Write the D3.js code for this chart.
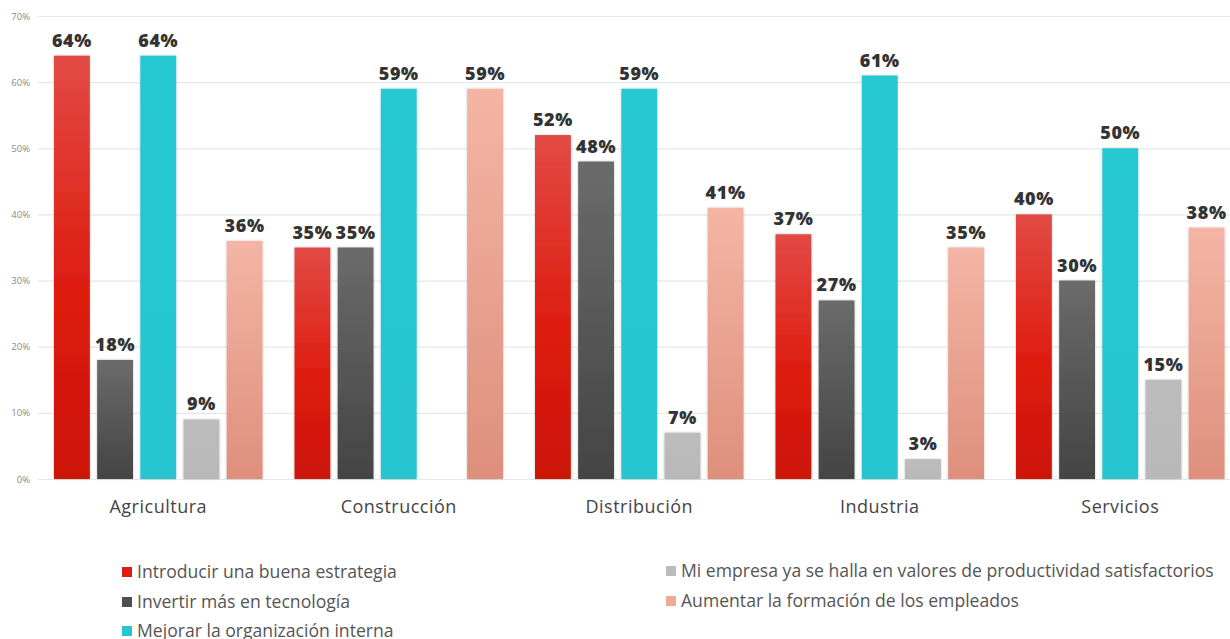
<!DOCTYPE html>
<html>
<head>
<meta charset="utf-8">
<script src="https://cdn.jsdelivr.net/npm/d3@7/dist/d3.min.js"></script>
<style>
  html, body { margin: 0; padding: 0; background: #fff; }
  svg { display: block; }
</style>
</head>
<body>
<svg id="chart" width="1230" height="639"></svg>
<script>
// Sectors on the x axis
const categories = ["Agricultura", "Construcción", "Distribución", "Industria", "Servicios"];

// Answer series (percent of companies per sector)
const seriesNames = [
  "Introducir una buena estrategia",
  "Invertir más en tecnología",
  "Mejorar la organización interna",
  "Mi empresa ya se halla en valores de productividad satisfactorios",
  "Aumentar la formación de los empleados"
];
const estrategia   = [64, 35, 52, 37, 40];
const tecnologia   = [18, 35, 48, 27, 30];
const organizacion = [64, 59, 59, 61, 50];
const satisfechos  = [9, null, 7, 3, 15];
const formacion    = [36, 59, 41, 35, 38];

const yTicks = [0, 10, 20, 30, 40, 50, 60, 70];

const seriesValues = [estrategia, tecnologia, organizacion, satisfechos, formacion];
const seriesKeys = ["s0", "s1", "s2", "s3", "s4"];

const svg = d3.select("#chart");
const width = 1230;

const x = d3.scaleBand().domain(categories).range([38, 38 + 5 * 240.5]).paddingInner(0).paddingOuter(0);
const xInner = d3.scaleBand().domain(seriesKeys).range([16, 240.5 - 16]).paddingInner(0.17).paddingOuter(0);
const y = d3.scaleLinear().domain([0, 70]).range([479, 16]);

// Gradients per series
const defs = svg.append("defs");
const gradStops = [
  [["0%", "#e24a45"], ["55%", "#de1d10"], ["100%", "#cc1406"]],
  [["0%", "#6b6b6b"], ["100%", "#444444"]],
  [["0%", "#27c8d1"], ["100%", "#25c5cf"]],
  [["0%", "#bcbcbc"], ["100%", "#b8b8b8"]],
  [["0%", "#f4b5a5"], ["100%", "#de8f7c"]]
];
gradStops.forEach((stops, i) => {
  const g = defs.append("linearGradient").attr("id", "g" + i)
    .attr("x1", 0).attr("y1", 0).attr("x2", 0).attr("y2", 1);
  stops.forEach(s => g.append("stop").attr("offset", s[0]).attr("stop-color", s[1]));
});
const shadow = defs.append("filter").attr("id", "shadow")
  .attr("x", "-20%").attr("y", "-5%").attr("width", "140%").attr("height", "110%");
shadow.append("feDropShadow").attr("dx", 0).attr("dy", 0).attr("stdDeviation", 1.2)
  .attr("flood-color", "#000").attr("flood-opacity", 0.25);

// Y axis with gridlines
const yAxis = d3.axisLeft(y).tickValues(yTicks).tickFormat(d => d + "%").tickSize(-(width - 38)).tickPadding(8);
const yg = svg.append("g").attr("transform", "translate(38,0)").call(yAxis);
yg.select(".domain").remove();
yg.selectAll(".tick line").attr("stroke", "#e7e7e7").attr("stroke-width", 1.2);
yg.selectAll(".tick text")
  .attr("fill", "#8a8a8a")
  .style("font-family", "'Open Sans', sans-serif")
  .style("font-size", "9.5px");

// X axis labels
const xAxis = d3.axisBottom(x).tickSize(0).tickPadding(21);
const xg = svg.append("g").attr("transform", "translate(0,479)").call(xAxis);
xg.select(".domain").remove();
xg.selectAll(".tick text")
  .attr("fill", "#444")
  .style("font-family", "'Open Sans', sans-serif")
  .style("font-size", "18px")
  .style("letter-spacing", "0.5px");

// Bars
const rows = [];
categories.forEach((c, ci) => {
  seriesValues.forEach((vals, si) => {
    if (vals[ci] != null) rows.push({ c, si, v: vals[ci] });
  });
});

const groups = svg.append("g");
groups.selectAll("rect.bar").data(rows).join("rect")
  .attr("class", "bar")
  .attr("x", d => x(d.c) + xInner(seriesKeys[d.si]))
  .attr("y", d => y(d.v))
  .attr("width", xInner.bandwidth())
  .attr("height", d => y(0) - y(d.v))
  .attr("fill", d => "url(#g" + d.si + ")")
  .attr("filter", "url(#shadow)");

groups.selectAll("text.val").data(rows).join("text")
  .attr("class", "val")
  .attr("x", d => x(d.c) + xInner(seriesKeys[d.si]) + xInner.bandwidth() / 2)
  .attr("y", d => y(d.v) - 9)
  .attr("text-anchor", "middle")
  .attr("fill", "#333")
  .style("font-family", "'Open Sans', sans-serif")
  .style("font-weight", 800)
  .style("font-size", "18px")
  .style("letter-spacing", "0.6px")
  .text(d => d.v + "%");

// Legend
const legendColors = ["#dd1d12", "#4f4f4f", "#26c6d0", "#bbbbbb", "#f0a996"];
const legendPos = [
  [122, 572], [122, 602], [122, 631],
  [666, 571], [666, 601]
];
const legend = svg.append("g");
const items = legend.selectAll("g").data(seriesNames).join("g")
  .attr("transform", (d, i) => `translate(${legendPos[i][0]},${legendPos[i][1]})`);
items.append("rect").attr("x", 0).attr("y", -5).attr("width", 10).attr("height", 10)
  .attr("fill", (d, i) => legendColors[i]);
items.append("text").attr("x", 15).attr("y", 0).attr("dy", "0.35em")
  .attr("fill", "#555")
  .style("font-family", "'Open Sans', sans-serif")
  .style("font-size", "17.6px")
  .text(d => d);
</script>
</body>
</html>
